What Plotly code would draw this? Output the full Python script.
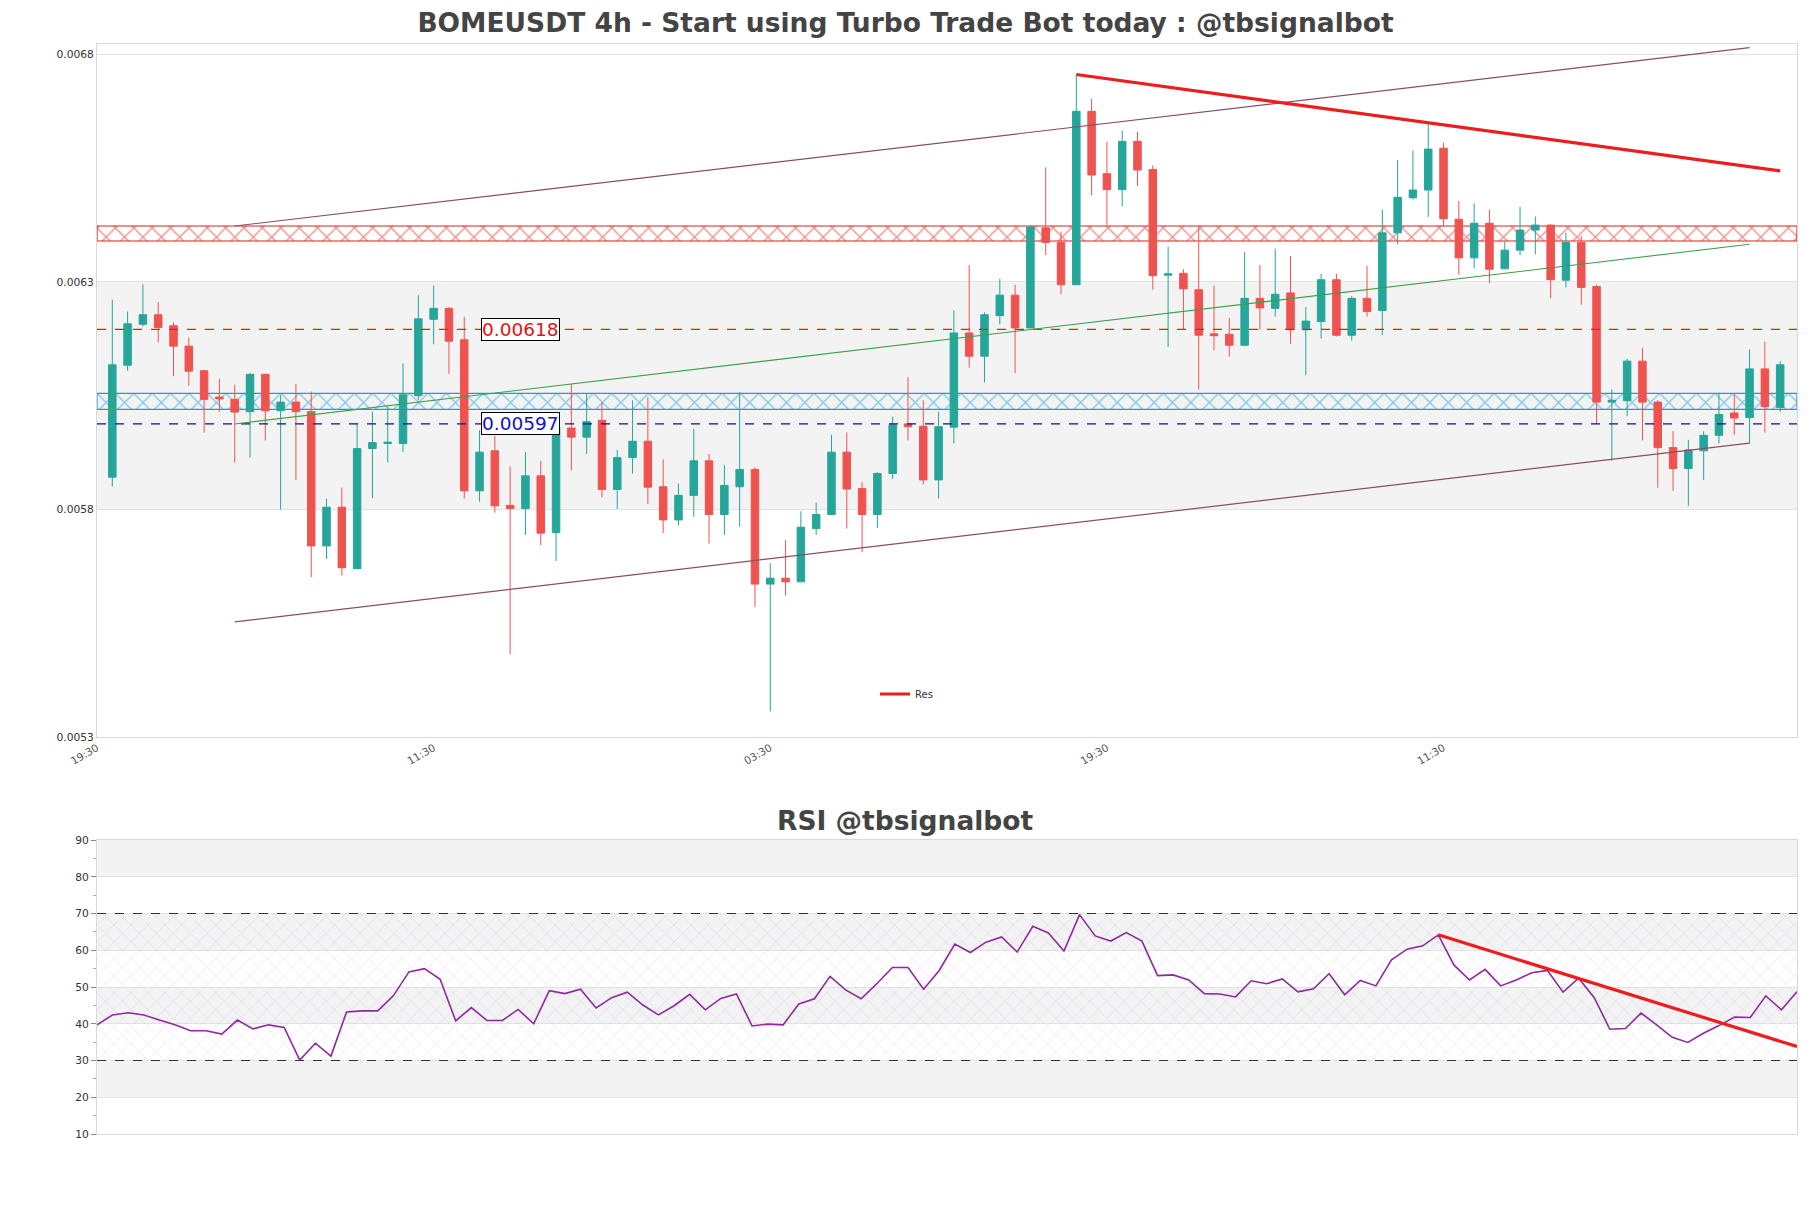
import plotly.graph_objects as go

# ---------------- data ----------------
candle_pos = list(range(1, 111))
open_ = [0.005871,0.006117,0.006207,0.006228,0.006204,0.006159,0.006105,0.006047,0.006042,0.006015,
         0.006097,0.006017,0.006036,0.006015,0.005720,0.005805,0.005670,0.005934,0.005945,0.005945,
         0.006050,0.006218,0.006242,0.006173,0.005841,0.005929,0.005809,0.005802,0.005874,0.005749,
         0.005979,0.005959,0.005996,0.005844,0.005914,0.005950,0.005850,0.005777,0.005831,0.005907,
         0.005789,0.005850,0.005888,0.005636,0.005649,0.005641,0.005758,0.005789,0.005926,0.005846,
         0.005789,0.005879,0.005988,0.005983,0.005865,0.005981,0.006188,0.006137,0.006226,0.006271,
         0.006199,0.006419,0.006387,0.006294,0.006675,0.006538,0.006503,0.006609,0.006547,0.006315,
         0.006319,0.006283,0.006186,0.006185,0.006161,0.006264,0.006242,0.006276,0.006195,0.006213,
         0.006305,0.006183,0.006264,0.006237,0.006408,0.006485,0.006502,0.006594,0.006438,0.006353,
         0.006429,0.006329,0.006370,0.006414,0.006425,0.006304,0.006387,0.006290,0.006036,0.006039,
         0.006126,0.006036,0.005936,0.005890,0.005929,0.005963,0.006012,0.006002,0.006109,0.006024]
high_ = [0.006261,0.006235,0.006295,0.006256,0.006211,0.006178,0.006107,0.006087,0.006074,0.006100,
         0.006097,0.006052,0.006076,0.006059,0.005824,0.005848,0.005988,0.006015,0.006026,0.006121,
         0.006271,0.006292,0.006245,0.006223,0.005974,0.005962,0.005895,0.005926,0.005907,0.005995,
         0.006076,0.006055,0.006036,0.005931,0.006040,0.006047,0.005910,0.005857,0.005977,0.005922,
         0.005898,0.006058,0.005893,0.005682,0.005733,0.005796,0.005815,0.005964,0.005969,0.005860,
         0.005882,0.006004,0.006091,0.006040,0.006015,0.006237,0.006337,0.006233,0.006307,0.006294,
         0.006425,0.006552,0.006411,0.006756,0.006703,0.006608,0.006633,0.006630,0.006556,0.006378,
         0.006328,0.006423,0.006292,0.006221,0.006366,0.006337,0.006373,0.006357,0.006245,0.006318,
         0.006318,0.006269,0.006335,0.006459,0.006568,0.006589,0.006649,0.006606,0.006478,0.006473,
         0.006459,0.006389,0.006465,0.006444,0.006427,0.006408,0.006402,0.006294,0.006064,0.006131,
         0.006156,0.006040,0.005972,0.005953,0.005972,0.006057,0.006055,0.006152,0.006169,0.006126]
low_ = [0.005850,0.006105,0.006202,0.006167,0.006093,0.006072,0.005969,0.006015,0.005903,0.005914,
        0.005952,0.005800,0.005865,0.005651,0.005691,0.005655,0.005670,0.005825,0.005903,0.005926,
        0.006040,0.006163,0.006098,0.005824,0.005817,0.005793,0.005482,0.005744,0.005722,0.005687,
        0.005886,0.005922,0.005827,0.005801,0.005879,0.005812,0.005748,0.005765,0.005784,0.005725,
        0.005744,0.005762,0.005586,0.005356,0.005611,0.005641,0.005744,0.005789,0.005758,0.005706,
        0.005760,0.005867,0.005952,0.005855,0.005824,0.005945,0.006112,0.006079,0.006207,0.006100,
        0.006199,0.006359,0.006273,0.006294,0.006490,0.006425,0.006466,0.006511,0.006283,0.006157,
        0.006195,0.006064,0.006150,0.006136,0.006159,0.006195,0.006224,0.006164,0.006095,0.006176,
        0.006180,0.006171,0.006224,0.006183,0.006383,0.006481,0.006443,0.006421,0.006316,0.006330,
        0.006297,0.006328,0.006359,0.006361,0.006264,0.006288,0.006250,0.005988,0.005907,0.006005,
        0.005952,0.005848,0.005841,0.005808,0.005865,0.005945,0.005964,0.005945,0.005969,0.006015]
close_ = [0.006118,0.006208,0.006228,0.006200,0.006159,0.006104,0.006042,0.006043,0.006014,0.006097,
          0.006017,0.006036,0.006015,0.005720,0.005805,0.005672,0.005934,0.005947,0.005948,0.006052,
          0.006219,0.006242,0.006170,0.005841,0.005926,0.005808,0.005802,0.005874,0.005748,0.005981,
          0.005959,0.005993,0.005844,0.005914,0.005950,0.005849,0.005777,0.005831,0.005907,0.005789,
          0.005853,0.005888,0.005636,0.005649,0.005641,0.005761,0.005789,0.005926,0.005845,0.005789,
          0.005879,0.005986,0.005982,0.005865,0.005982,0.006188,0.006137,0.006228,0.006271,0.006199,
          0.006421,0.006387,0.006294,0.006675,0.006535,0.006503,0.006609,0.006546,0.006314,0.006318,
          0.006285,0.006183,0.006182,0.006161,0.006264,0.006243,0.006273,0.006195,0.006214,0.006305,
          0.006183,0.006264,0.006235,0.006408,0.006486,0.006502,0.006592,0.006439,0.006353,0.006429,
          0.006328,0.006370,0.006414,0.006425,0.006305,0.006387,0.006288,0.006036,0.006040,0.006126,
          0.006036,0.005936,0.005890,0.005931,0.005963,0.006009,0.006001,0.006109,0.006026,0.006118]

rsi = [39.7,42.4,43.0,42.4,41.0,39.7,38.1,38.1,37.2,41.0,38.6,39.7,39.0,30.1,34.7,31.2,43.2,43.5,43.5,47.6,
       54.1,55.0,52.1,40.8,44.4,40.9,40.9,43.9,40.0,49.0,48.2,49.4,44.3,47.1,48.6,45.1,42.4,44.9,48.0,43.8,
       46.9,48.1,39.4,39.9,39.7,45.4,46.8,52.9,49.2,46.8,50.9,55.3,55.3,49.4,54.5,61.7,59.4,62.2,63.6,59.5,
       66.5,64.7,59.8,69.7,63.9,62.5,64.8,62.5,53.1,53.3,51.9,48.2,48.1,47.3,51.7,50.9,52.2,48.7,49.5,53.6,
       47.9,51.8,50.3,57.4,60.3,61.2,64.2,56.0,51.9,54.8,50.3,51.9,53.9,54.5,48.6,52.4,47.1,38.5,38.7,42.9,
       39.7,36.3,34.9,37.4,39.5,41.8,41.7,47.6,43.8,48.7]

x_tick_pos = [0, 22, 44, 66, 88]
x_tick_labels = ["19:30", "11:30", "03:30", "19:30", "11:30"]
y_tick_vals = [0.0053, 0.0058, 0.0063, 0.0068]
y_tick_labels = ["0.0053", "0.0058", "0.0063", "0.0068"]

res_zone = [0.006390, 0.006423]
sup_zone = [0.006020, 0.006055]
level_values = [0.006196, 0.005988]
level_labels = ["0.00618", "0.00597"]

channel_x = [9, 108]
upper_y = [0.006423, 0.006815]
lower_y = [0.005553, 0.005946]
mid_y = [0.005988, 0.006383]
res_x = [64, 110]
res_y = [0.006756, 0.006544]
rsi_trend_x = [87, 110]
rsi_trend_y = [64.2, 33.8]

# ---------------- figure ----------------
W, H = 1811, 1208
XMAX = 111.1
fig = go.Figure()

def zone(lo, hi, col):
    # drawn as a bar so it sits beneath the candles
    fig.add_trace(go.Bar(
        x=[XMAX / 2], y=[hi - lo], base=[lo], width=[XMAX],
        marker=dict(color="rgba(255,255,255,0)", line=dict(color=col, width=1.2),
                    pattern=dict(shape="x", fgcolor=col, bgcolor="rgba(0,0,0,0)",
                                 size=13, solidity=0.2)),
        showlegend=False, hoverinfo="skip", xaxis="x", yaxis="y"))

zone(res_zone[0], res_zone[1], "#e3201c")
zone(sup_zone[0], sup_zone[1], "#1a9de0")

fig.add_trace(go.Candlestick(
    x=candle_pos, open=open_, high=high_, low=low_, close=close_,
    increasing=dict(line=dict(color="#26a69a", width=1), fillcolor="#26a69a"),
    decreasing=dict(line=dict(color="#ef5350", width=1), fillcolor="#ef5350"),
    showlegend=False, xaxis="x", yaxis="y"))

for val, col in zip(level_values, ["#e0201e", "#10108a"]):
    fig.add_trace(go.Scatter(x=[0, XMAX], y=[val, val], mode="lines",
                             line=dict(color=col, width=1.3, dash="dash"),
                             showlegend=False, hoverinfo="skip", xaxis="x", yaxis="y"))

for yy in (upper_y, lower_y):
    fig.add_trace(go.Scatter(x=channel_x, y=yy, mode="lines",
                             line=dict(color="#8a4f5f", width=1.2),
                             showlegend=False, hoverinfo="skip", xaxis="x", yaxis="y"))
fig.add_trace(go.Scatter(x=channel_x, y=mid_y, mode="lines",
                         line=dict(color="#3aa04a", width=1.1),
                         showlegend=False, hoverinfo="skip", xaxis="x", yaxis="y"))
fig.add_trace(go.Scatter(x=res_x, y=res_y, mode="lines", name="Res",
                         line=dict(color="#ee1c1c", width=3.2),
                         showlegend=True, xaxis="x", yaxis="y"))

# RSI panel
fig.add_trace(go.Bar(
    x=[55.5], y=[40], base=[30], width=[109],
    marker=dict(color="rgba(255,255,255,0)", line=dict(width=0),
                pattern=dict(shape="x", fgcolor="rgba(190,150,215,0.65)", bgcolor="rgba(0,0,0,0)",
                             size=12, solidity=0.09)),
    showlegend=False, hoverinfo="skip", xaxis="x2", yaxis="y2"))
for lv in (70, 30):
    fig.add_trace(go.Scatter(x=[1, 110], y=[lv, lv], mode="lines",
                             line=dict(color="#333333", width=1.2, dash="dash"),
                             showlegend=False, hoverinfo="skip", xaxis="x2", yaxis="y2"))
fig.add_trace(go.Scatter(x=candle_pos, y=rsi, mode="lines",
                         line=dict(color="#8e2a9e", width=1.6),
                         showlegend=False, xaxis="x2", yaxis="y2"))
fig.add_trace(go.Scatter(x=rsi_trend_x, y=rsi_trend_y, mode="lines",
                         line=dict(color="#ee1c1c", width=3.2),
                         showlegend=False, xaxis="x2", yaxis="y2"))

shapes = [dict(type="rect", xref="x domain", yref="y", x0=0, x1=1, y0=0.0058, y1=0.0063,
               fillcolor="#f3f3f3", line=dict(width=0), layer="below")]
for lo, hi in [(80, 90), (60, 70), (40, 50), (20, 30)]:
    shapes.append(dict(type="rect", xref="x2 domain", yref="y2", x0=0, x1=1, y0=lo, y1=hi,
                       fillcolor="#f3f3f3", line=dict(width=0), layer="below"))

annotations = []
for val, txt, col in zip(level_values, level_labels, ["#e81010", "#1010d0"]):
    annotations.append(dict(x=27.7, y=val, xref="x", yref="y", text=txt, showarrow=False,
                            font=dict(size=18.5, color=col, family="DejaVu Sans"),
                            bgcolor="white", bordercolor="black", borderwidth=1, borderpad=0))
annotations.append(dict(x=0.5, y=1 - 820 / H, xref="paper", yref="paper",
                        text="<b>RSI @tbsignalbot</b>", showarrow=False,
                        font=dict(size=26.5, color="#444444", family="DejaVu Sans"),
                        xanchor="center", yanchor="middle"))

axcol = "#d9d9d9"
fig.update_layout(
    width=W, height=H,
    margin=dict(l=0, r=0, t=0, b=0, autoexpand=False),
    paper_bgcolor="white", plot_bgcolor="white",
    barmode="overlay",
    font=dict(family="DejaVu Sans", color="#333333"),
    title=dict(text="<b>BOMEUSDT 4h - Start using Turbo Trade Bot today : @tbsignalbot</b>",
               x=0.5, xanchor="center", y=1 - 23 / H, yanchor="middle", automargin=False,
               font=dict(size=26.5, color="#444444", family="DejaVu Sans")),
    xaxis=dict(domain=[97 / W, 1797 / W], range=[0, XMAX], anchor="y", automargin=False,
               tickmode="array", tickvals=x_tick_pos, ticktext=x_tick_labels,
               tickangle=-30, tickfont=dict(size=10.5, color="#555555"),
               showgrid=False, zeroline=False, showline=True, linecolor=axcol, mirror=True,
               rangeslider=dict(visible=False)),
    yaxis=dict(domain=[1 - 737 / H, 1 - 44 / H], range=[0.0053, 0.006823], anchor="x", automargin=False,
               tickmode="array", tickvals=y_tick_vals, ticktext=y_tick_labels,
               tickfont=dict(size=10.7, color="#333333"),
               showgrid=True, gridcolor="#e3e3e3", zeroline=False,
               showline=True, linecolor=axcol, mirror=True),
    xaxis2=dict(domain=[97 / W, 1797 / W], range=[1, 110], anchor="y2", automargin=False,
                showticklabels=False, showgrid=False, zeroline=False,
                showline=True, linecolor=axcol, mirror=True),
    yaxis2=dict(domain=[1 - 1134 / H, 1 - 840 / H], range=[10, 90], anchor="x2", automargin=False,
                tickmode="linear", tick0=10, dtick=10, ticks="outside", ticklen=5,
                tickcolor="#888888", tickfont=dict(size=10.7, color="#333333"),
                minor=dict(dtick=5, ticks="outside", ticklen=3, tickcolor="#aaaaaa", showgrid=False),
                showgrid=True, gridcolor="#e3e3e3", zeroline=False,
                showline=True, linecolor=axcol, mirror=True),
    shapes=shapes, annotations=annotations,
    showlegend=True,
    legend=dict(x=875 / W, y=1 - 694 / H, xanchor="left", yanchor="middle",
                bgcolor="rgba(0,0,0,0)", font=dict(size=10, color="#333333"),
                itemwidth=30),
)

fig.write_html("out.html")
